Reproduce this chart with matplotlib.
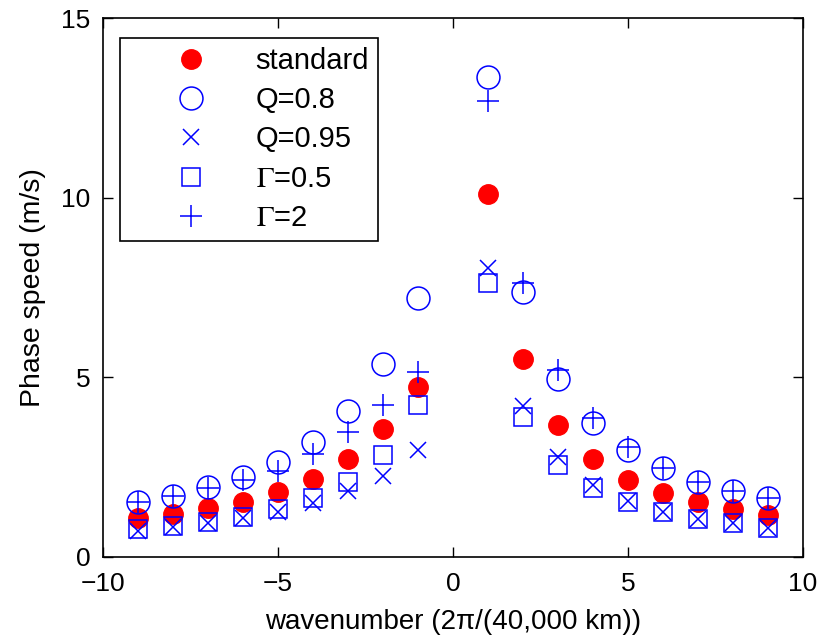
import matplotlib
matplotlib.use("Agg")
import matplotlib.pyplot as plt

plt.rcParams['font.family'] = ['Liberation Sans', 'DejaVu Sans']
plt.rcParams['mathtext.fontset'] = 'stix'
plt.rcParams['axes.unicode_minus'] = True

k = [-9, -8, -7, -6, -5, -4, -3, -2, -1, 1, 2, 3, 4, 5, 6, 7, 8, 9]
standard = [1.08, 1.20, 1.36, 1.54, 1.82, 2.17, 2.72, 3.56, 4.73,
            10.11, 5.51, 3.67, 2.72, 2.14, 1.79, 1.53, 1.34, 1.17]
q08 = [1.54, 1.71, 1.94, 2.24, 2.63, 3.21, 4.07, 5.38, 7.21,
       13.36, 7.38, 4.95, 3.72, 2.98, 2.47, 2.10, 1.85, 1.64]
q095 = [0.73, 0.84, 0.95, 1.08, 1.26, 1.50, 1.84, 2.26, 2.98,
        8.04, 4.21, 2.79, 2.00, 1.56, 1.25, 1.06, 0.94, 0.82]
g05 = [0.77, 0.86, 0.97, 1.12, 1.33, 1.63, 2.09, 2.84, 4.23,
       7.62, 3.91, 2.56, 1.91, 1.52, 1.25, 1.06, 0.94, 0.82]
g2 = [1.54, 1.70, 1.92, 2.15, 2.40, 2.87, 3.47, 4.23, 5.15,
      12.68, 7.62, 5.21, 3.86, 3.05, 2.49, 2.10, 1.85, 1.64]

labels = ['standard', 'Q=0.8', 'Q=0.95', r'$\Gamma$=0.5', r'$\Gamma$=2']

fig = plt.figure(figsize=(8.23, 6.4), dpi=100)
ax = fig.add_axes([103/823, 83/640, 700/823, 539/640])

blue = '#0000ff'
ax.plot(k, standard, linestyle='none', marker='o', ms=14, mfc='red', mec='red', label=labels[0])
ax.plot(k, q08, linestyle='none', marker='o', ms=16.5, mfc='none', mec=blue, mew=1.1, label=labels[1])
ax.plot(k, q095, linestyle='none', marker='x', ms=11, mec=blue, mew=1.1, label=labels[2])
ax.plot(k, g05, linestyle='none', marker='s', ms=13, mfc='none', mec=blue, mew=1.1, label=labels[3])
ax.plot(k, g2, linestyle='none', marker='+', ms=16, mec=blue, mew=1.1, label=labels[4])

ax.set_xlim(-10, 10)
ax.set_ylim(0, 15)
ax.set_xticks([-10, -5, 0, 5, 10])
ax.set_yticks([0, 5, 10, 15])
ax.tick_params(direction='in', length=7, width=1.0, top=True, right=True,
               labelsize=19, pad=9)
ax.tick_params(axis='x', pad=11)
for s in ax.spines.values():
    s.set_linewidth(1.2)

ax.set_xlabel('wavenumber (2π/(40,000 km))', fontsize=20, labelpad=9)
ax.set_ylabel('Phase speed (m/s)', fontsize=20.5, labelpad=11)

leg = ax.legend(loc='upper left', bbox_to_anchor=(120/823, 1 - 38/640),
                bbox_transform=fig.transFigure, borderaxespad=0,
                fontsize=21, fancybox=False, framealpha=1, edgecolor='black',
                numpoints=1, handlelength=4.3, handletextpad=0.05,
                borderpad=0.3, labelspacing=0.39)
leg.get_frame().set_linewidth(1.2)

fig.savefig('out.png', dpi=100)
